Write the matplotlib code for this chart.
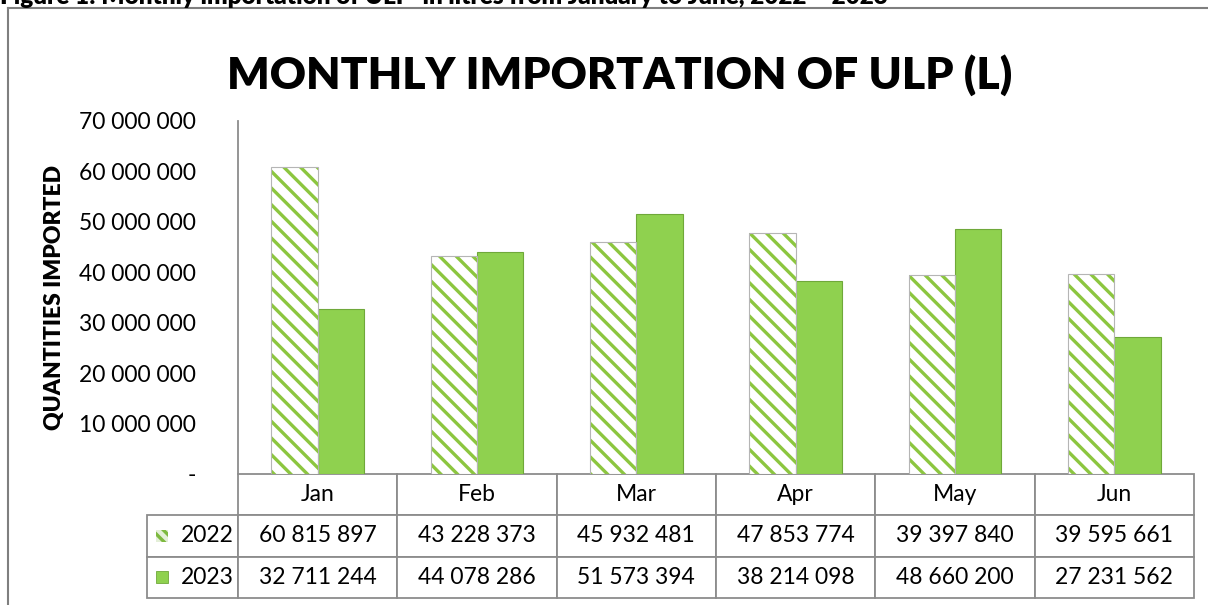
import numpy as np
import matplotlib.pyplot as plt
from matplotlib.lines import Line2D
from matplotlib.patches import Rectangle
from matplotlib.ticker import FuncFormatter

months = ['Jan', 'Feb', 'Mar', 'Apr', 'May', 'Jun']
years = ['2022', '2023']
ulp_2022 = [60815897, 43228373, 45932481, 47853774, 39397840, 39595661]
ulp_2023 = [32711244, 44078286, 51573394, 38214098, 48660200, 27231562]

title = 'MONTHLY IMPORTATION OF ULP (L)'
caption = 'Figure 1: Monthly importation of ULP  in litres from January to June, 2022 \u2013 2023'
ylabel = 'QUANTITIES IMPORTED'

GREEN = '#8FD14F'
GREEN_EDGE = '#6FA83A'
HATCH_GREEN = '#8CC63F'
GRID_GRAY = '#8C8C8C'

plt.rcParams['font.family'] = ['Lato', 'DejaVu Sans']
plt.rcParams['hatch.linewidth'] = 2.4


def fmt_num(v):
    if v == 0:
        return '-'
    return '{:,}'.format(int(round(v))).replace(',', ' ')


fig = plt.figure(figsize=(12.08, 6.05), dpi=100)
W, H = 1208, 605
ax = fig.add_axes([238 / W, 1 - 474 / H, (1194 - 238) / W, (474 - 121) / H])

x = np.arange(len(months))
bw = 0.29
# 2022: white bars with diagonal green stripes
ax.bar(x - bw / 2, ulp_2022, bw, facecolor='white', edgecolor=HATCH_GREEN,
       hatch='\\\\', linewidth=0, zorder=2)
ax.bar(x - bw / 2, ulp_2022, bw, facecolor='none', edgecolor='#B5B5B5',
       linewidth=0.8, zorder=3)
# 2023: solid green bars
ax.bar(x + bw / 2, ulp_2023, bw, color=GREEN, edgecolor=GREEN_EDGE,
       linewidth=0.8, zorder=2)

ax.set_xlim(-0.5, len(months) - 0.5)
ax.set_ylim(0, 70000000)
ax.set_yticks(np.arange(0, 70000001, 10000000))
ax.yaxis.set_major_formatter(FuncFormatter(lambda v, p: fmt_num(v)))
ax.tick_params(axis='y', length=0, pad=30, labelsize=16.5, labelcolor='#000000')
ax.set_xticks([])
for s in ['top', 'right', 'bottom']:
    ax.spines[s].set_visible(False)
ax.spines['left'].set_color(GRID_GRAY)
ax.spines['left'].set_linewidth(1.3)
ax.set_ylabel(ylabel, fontsize=16.5, fontweight='heavy')
ax.yaxis.set_label_coords((65 - 238) / 956, 0.5)

# data table under the plot
cell_text = [[years[0]] + [fmt_num(v) for v in ulp_2022],
             [years[1]] + [fmt_num(v) for v in ulp_2023]]
lab_w = (238 - 147) / 956
col_w = [lab_w] + [1 / len(months)] * len(months)
tb = ax.table(cellText=cell_text, colLabels=[''] + months, colWidths=col_w,
              cellLoc='center', bbox=[-lab_w, -124 / 353, 1 + lab_w, 124 / 353])
tb.auto_set_font_size(False)
tb.set_fontsize(16.5)
for (r, c), cell in tb.get_celld().items():
    cell.set_edgecolor(GRID_GRAY)
    cell.set_linewidth(1.3)
    cell.get_text().set_color('#000000')
    if r == 0 and c == 0:
        cell.visible_edges = 'open'
    if c == 0 and r > 0:
        cell.get_text().set_ha('right')
        cell._loc = 'right'
        cell.PAD = 0.05

# legend keys inside the row label cells
kx = (156 - 238) / 956
kw = 12 / 956
kh = 12 / 353
for yc, kind in [((474 - 536) / 353, 'hatch'), ((474 - 577) / 353, 'solid')]:
    if kind == 'hatch':
        ax.add_patch(Rectangle((kx, yc - kh / 2), kw, kh, transform=ax.transAxes,
                               facecolor='#E4EFD8', edgecolor='#7DB93F', hatch='\\\\\\',
                               linewidth=0, clip_on=False))
    else:
        ax.add_patch(Rectangle((kx, yc - kh / 2), kw, kh, transform=ax.transAxes,
                               facecolor=GREEN, edgecolor=GREEN_EDGE,
                               linewidth=0.6, clip_on=False))

fig.text(620 / W, 1 - 75 / H, title, ha='center', va='center',
         fontsize=32, fontweight='heavy', color='#000000')

# caption cut at the top of the picture
fig.text(0.0, 1 - 4 / H, caption, ha='left', va='baseline',
         fontsize=17.5, fontweight='heavy', color='#000000')

# outer chart frame
fig.add_artist(Line2D([8 / W, 8 / W], [0, 1 - 8 / H], color='#7F7F7F', lw=1.5))
fig.add_artist(Line2D([8 / W, 1], [1 - 8 / H, 1 - 8 / H], color='#7F7F7F', lw=1.5))

fig.savefig('out.png', dpi=100)
